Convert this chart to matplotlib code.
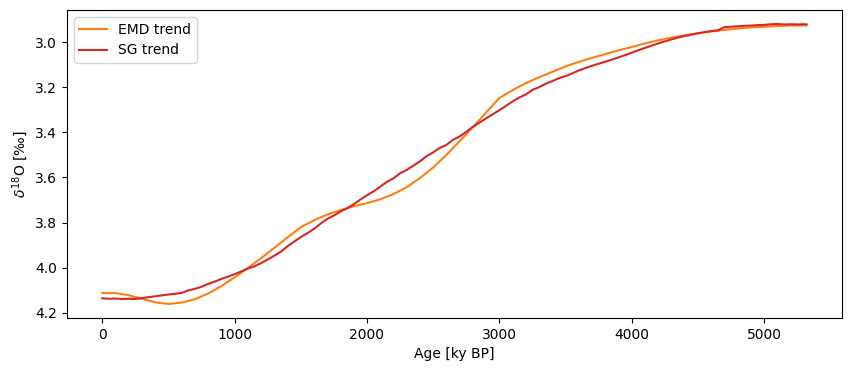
import matplotlib
matplotlib.use("Agg")
import matplotlib.pyplot as plt

emd_age = [0, 100, 200, 300, 400, 500, 600, 700, 800, 900, 1000, 1100, 1200, 1300, 1400,
           1500, 1600, 1700, 1800, 1900, 2000, 2100, 2200, 2300, 2400, 2500, 2600, 2700,
           2800, 2900, 3000, 3100, 3200, 3300, 3400, 3500, 3600, 3700, 3800, 3900, 4000,
           4100, 4200, 4300, 4400, 4500, 4600, 4700, 4800, 4900, 5000, 5100, 5200, 5320]
emd_trend = [4.112, 4.113, 4.122, 4.138, 4.154, 4.161, 4.155, 4.140, 4.115, 4.082, 4.043,
             4.002, 3.958, 3.912, 3.866, 3.821, 3.790, 3.765, 3.745, 3.728, 3.714, 3.697,
             3.674, 3.643, 3.603, 3.556, 3.500, 3.439, 3.377, 3.312, 3.248, 3.213, 3.182,
             3.156, 3.132, 3.108, 3.088, 3.070, 3.053, 3.037, 3.022, 3.006, 2.992, 2.980,
             2.970, 2.961, 2.953, 2.946, 2.940, 2.935, 2.932, 2.929, 2.927, 2.926]

sg_age = [0, 50, 100, 150, 200, 250, 300, 350, 400, 450, 500, 550, 600, 650, 700, 750,
          800, 850, 900, 950, 1000, 1050, 1100, 1150, 1200, 1250, 1300, 1350, 1400, 1450,
          1500, 1550, 1600, 1650, 1700, 1750, 1800, 1850, 1900, 1950, 2000, 2050, 2100,
          2150, 2200, 2250, 2300, 2350, 2400, 2450, 2500, 2550, 2600, 2650, 2700, 2750,
          2800, 2850, 2900, 2950, 3000, 3050, 3100, 3150, 3200, 3250, 3300, 3350, 3400,
          3450, 3500, 3550, 3600, 3650, 3700, 3750, 3800, 3850, 3900, 3950, 4000, 4050,
          4100, 4150, 4200, 4250, 4300, 4350, 4400, 4450, 4500, 4550, 4600, 4650, 4700,
          4750, 4800, 4850, 4900, 4950, 5000, 5050, 5100, 5150, 5200, 5250, 5300, 5320]
sg_trend = [4.136, 4.138, 4.137, 4.139, 4.138, 4.139, 4.135, 4.131, 4.127, 4.123, 4.119,
            4.116, 4.112, 4.101, 4.094, 4.085, 4.072, 4.062, 4.050, 4.040, 4.029, 4.017,
            4.004, 3.994, 3.980, 3.964, 3.947, 3.929, 3.905, 3.885, 3.864, 3.847, 3.828,
            3.805, 3.784, 3.769, 3.751, 3.737, 3.719, 3.698, 3.679, 3.662, 3.641, 3.620,
            3.604, 3.582, 3.567, 3.548, 3.529, 3.506, 3.489, 3.469, 3.456, 3.433, 3.418,
            3.398, 3.376, 3.357, 3.338, 3.320, 3.302, 3.283, 3.263, 3.246, 3.232, 3.212,
            3.200, 3.185, 3.173, 3.160, 3.151, 3.139, 3.126, 3.115, 3.105, 3.096, 3.087,
            3.078, 3.068, 3.058, 3.047, 3.036, 3.026, 3.016, 3.006, 2.997, 2.988, 2.980,
            2.973, 2.967, 2.961, 2.956, 2.951, 2.948, 2.934, 2.932, 2.930, 2.928, 2.927,
            2.925, 2.924, 2.921, 2.920, 2.922, 2.921, 2.922, 2.921, 2.922]

fig = plt.figure(figsize=(8.52, 3.71), dpi=100)
ax = fig.add_axes([0.0786, 0.143, 0.9094, 0.830])
ax.plot(emd_age, emd_trend, color='tab:orange', label='EMD trend')
ax.plot(sg_age, sg_trend, color='tab:red', label='SG trend')
ax.invert_yaxis()
ax.set_xlabel('Age [ky BP]')
ax.set_ylabel(r'$\delta^{18}$O [‰]')
ax.legend(loc='upper left')
fig.savefig('out.png', dpi=100)
